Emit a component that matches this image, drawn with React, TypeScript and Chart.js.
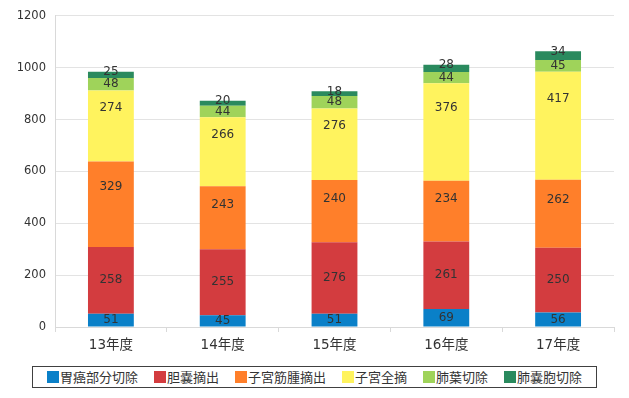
import React, { useEffect, useRef } from "react";
import { Chart, registerables } from "chart.js";

Chart.register(...registerables);

const categories = ["13年度", "14年度", "15年度", "16年度", "17年度"];
const seriesNames = ["胃癌部分切除", "胆嚢摘出", "子宮筋腫摘出", "子宮全摘", "肺葉切除", "肺嚢胞切除"];
const gastric = [51, 45, 51, 69, 56];
const gallbladder = [258, 255, 276, 261, 250];
const myoma = [329, 243, 240, 234, 262];
const hysterectomy = [274, 266, 276, 376, 417];
const lobectomy = [48, 44, 48, 44, 45];
const bulla = [25, 20, 18, 28, 34];
const yTicks = [0, 200, 400, 600, 800, 1000, 1200];

const seriesValues = [gastric, gallbladder, myoma, hysterectomy, lobectomy, bulla];
const colors = ["#0A80C8", "#D33C3F", "#FF7F2A", "#FFF35E", "#9FD35A", "#2A8A5E"];
const labelShift = [0, 0, -0.2, -0.25, 0, -0.45];

const TEXT = "#333333";
const NUM_FONT = "'DejaVu Sans', 'Noto Sans CJK JP', sans-serif";
const CJK_FONT = "'Noto Sans CJK JP', 'DejaVu Sans', sans-serif";

const labelPlugin = {
  id: "segLabels",
  afterDatasetsDraw(chart: any) {
    const ctx = chart.ctx;
    ctx.save();
    ctx.fillStyle = TEXT;
    ctx.font = `12px ${NUM_FONT}`;
    ctx.textAlign = "center";
    ctx.textBaseline = "middle";
    chart.data.datasets.forEach((ds: any, di: number) => {
      const meta = chart.getDatasetMeta(di);
      meta.data.forEach((bar: any, i: number) => {
        const h = bar.base - bar.y;
        const cy = (bar.y + bar.base) / 2 + (ds.labelShift || 0) * h;
        ctx.fillText(String(ds.data[i]), bar.x, cy);
      });
    });
    ctx.restore();
  },
};

export default function App() {
  const ref = useRef<HTMLCanvasElement>(null);
  useEffect(() => {
    if (!ref.current) return;
    const chart = new Chart(ref.current, {
      type: "bar",
      data: {
        labels: categories,
        datasets: seriesValues.map((vals, i) => ({
          label: seriesNames[i],
          data: vals,
          backgroundColor: colors[i],
          borderWidth: 0,
          barPercentage: 0.41,
          categoryPercentage: 1,
          labelShift: labelShift[i],
        })) as any,
      },
      options: {
        animation: false,
        responsive: false,
        maintainAspectRatio: false,
        layout: { padding: { top: 15, right: 15, left: 0, bottom: 0 } },
        plugins: {
          legend: { display: false },
          tooltip: { enabled: false },
        },
        scales: {
          x: {
            stacked: true,
            grid: {
              drawOnChartArea: false,
              drawTicks: true,
              tickLength: 5,
              color: "#d9d9d9",
              offset: true,
            },
            border: { color: "#d9d9d9" },
            ticks: {
              color: TEXT,
              font: { size: 13.5, family: NUM_FONT },
              padding: 5,
            },
            afterFit: (s: any) => {
              s.height = 33;
            },
          },
          y: {
            stacked: true,
            min: 0,
            max: 1200,
            afterBuildTicks: (s: any) => {
              s.ticks = yTicks.map((v) => ({ value: v }));
            },
            grid: { color: "#e3e3e3", drawTicks: false },
            border: { color: "#d9d9d9" },
            ticks: {
              color: TEXT,
              font: { size: 11.5, family: NUM_FONT },
              padding: 9,
              callback: (v: any) => String(v),
            },
            afterFit: (s: any) => {
              s.width = 55;
            },
          },
        },
      },
      plugins: [labelPlugin],
    });
    return () => chart.destroy();
  }, []);

  return (
    <div style={{ position: "fixed", left: 0, top: 0, width: 629, height: 398, background: "#fff" }}>
      <canvas ref={ref} width={629} height={360} style={{ position: "absolute", left: 0, top: 0 }} />
      <div
        style={{
          position: "absolute",
          left: 32,
          top: 366,
          display: "flex",
          alignItems: "center",
          gap: 16,
          padding: "0 14px",
          height: 20,
          border: "1px solid #404040",
          fontFamily: CJK_FONT,
          fontSize: 13,
          color: TEXT,
          whiteSpace: "nowrap",
        }}
      >
        {seriesNames.map((n, i) => (
          <div key={n} style={{ display: "flex", alignItems: "center" }}>
            <span style={{ display: "inline-block", width: 12, height: 12, background: colors[i], marginRight: 1 }} />
            <span style={{ lineHeight: "20px" }}>{n}</span>
          </div>
        ))}
      </div>
    </div>
  );
}
